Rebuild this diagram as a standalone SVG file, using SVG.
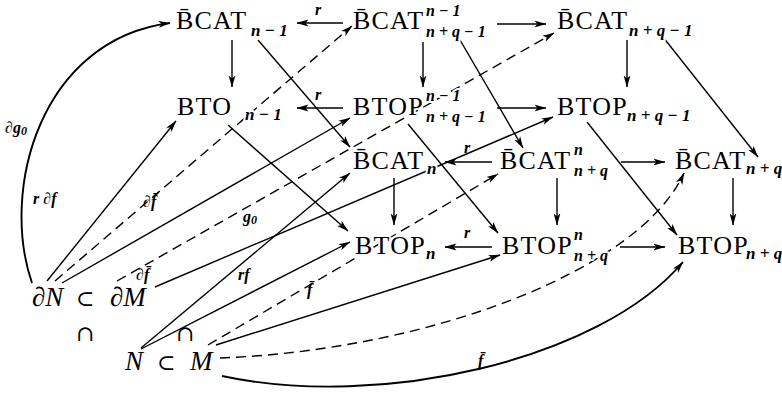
<svg xmlns="http://www.w3.org/2000/svg" width="782" height="395" viewBox="0 0 782 395">
  <defs>
    <marker id="ah" viewBox="0 0 12 8" refX="11.5" refY="4" markerWidth="12" markerHeight="8" markerUnits="userSpaceOnUse" orient="auto">
      <path d="M0,0.6 L12,4 L0,7.4 L3,4 z" fill="#000"/>
    </marker>
    <style>
      .nd { font-family: "Liberation Serif", "Times New Roman", serif; font-size: 26px; letter-spacing: 1.2px; fill: #000; stroke: #fff; stroke-width: 4px; paint-order: stroke; stroke-linejoin: round; }
      .sb { font-style: italic; font-weight: bold; font-size: 17px; letter-spacing: 0px; }
      .ss { font-style: italic; font-weight: bold; font-size: 16px; letter-spacing: 0px; }
      .lb { font-family: "Liberation Serif", "Times New Roman", serif; font-style: italic; font-weight: bold; font-size: 16px; fill: #000; }
      .mi { font-family: "Liberation Serif", "Times New Roman", serif; font-style: italic; font-size: 27px; fill: #000; }
      .op { font-family: "DejaVu Serif", "Liberation Serif", serif; font-style: normal; font-size: 22px; }
      .ln { fill: none; stroke: #000; stroke-width: 1.4px; marker-end: url(#ah); }
      .ds { stroke-dasharray: 10 6; }
      .cv { stroke-width: 1.9px; }
    </style>
  </defs>
  <rect width="782" height="395" fill="#fff"/>

  <g id="connectors">
    <!-- horizontal maps in each row -->
    <path class="ln" d="M343,23 H297"/>
    <path class="ln" d="M497,24 H546"/>
    <path class="ln" d="M343,108 H297"/>
    <path class="ln" d="M497,108 H546"/>
    <path class="ln" d="M492,162 H445"/>
    <path class="ln" d="M621,162 H665"/>
    <path class="ln" d="M492,247 H445"/>
    <path class="ln" d="M620,247 H665"/>
    <!-- vertical maps -->
    <path class="ln" d="M232,40 V87"/>
    <path class="ln" d="M423,42 V87"/>
    <path class="ln" d="M627,40 V87"/>
    <path class="ln" d="M394,178 V225"/>
    <path class="ln" d="M557,178 V225"/>
    <path class="ln" d="M733,178 V225"/>
    <!-- back face to front face -->
    <path class="ln" d="M258,40 L350,147"/>
    <path class="ln" d="M228,125 L348,231"/>
    <path class="ln" d="M460,40 L523,148"/>
    <path class="ln" d="M408,124 L498,233"/>
    <path class="ln" d="M663,37 L758,157"/>
    <path class="ln" d="M587,122 L677,235"/>
    <!-- maps out of the boundary pair -->
    <path class="ln cv" d="M32,283 C0,190 40,40 170,23"/>
    <path class="ln" d="M47,281 L176,121"/>
    <path class="ln ds" d="M55,281 L352,26"/>
    <path class="ln" d="M62,283 L350,118"/>
    <path class="ln ds" d="M117,281 L554,33"/>
    <path class="ln" d="M155,287 L553,117"/>
    <!-- maps out of the manifold pair -->
    <path class="ln" d="M141,348 L350,173"/>
    <path class="ln" d="M141,349 L350,242"/>
    <path class="ln ds" d="M208,345 L498,174"/>
    <path class="ln" d="M216,345 L500,255"/>
    <path class="ln ds" d="M220,358 C430,350 640,270 684,173"/>
    <path class="ln cv" d="M222,376 C380,410 600,360 683,262"/>
  </g>

  <g id="labels">
    <text class="lb" x="315" y="15">r</text>
    <text class="lb" x="315" y="100">r</text>
    <text class="lb" x="464" y="153">r</text>
    <text class="lb" x="464" y="238">r</text>
    <text class="lb" x="5" y="133">∂g<tspan font-size="12" dy="2">0</tspan></text>
    <text class="lb" x="33" y="204">r ∂f</text>
    <text class="lb" x="143" y="207">∂f̄</text>
    <text class="lb" x="243" y="222">g<tspan font-size="12" dy="2">0</tspan></text>
    <text class="lb" x="136" y="280">∂f̄</text>
    <text class="lb" x="238" y="280">rf</text>
    <text class="lb" x="307" y="295">f̄</text>
    <text class="lb" x="478" y="366">f̄</text>
  </g>

  <g id="bcat-n-1"><text class="nd" x="176" y="29">B̄CAT<tspan class="sb" x="251" y="36">n − 1</tspan></text></g>
  <g id="bcat-pair-n-1"><text class="nd" x="353" y="29">B̄CAT<tspan class="ss" x="426" y="16">n − 1</tspan><tspan class="ss" x="426" y="37">n + q − 1</tspan></text></g>
  <g id="bcat-n+q-1"><text class="nd" x="557" y="29">B̄CAT<tspan class="sb" x="629" y="36">n + q − 1</tspan></text></g>

  <g id="bto-n-1"><text class="nd" x="177" y="115">BTO<tspan class="sb" x="245" y="120">n − 1</tspan></text></g>
  <g id="btop-pair-n-1"><text class="nd" x="353" y="115">BTOP<tspan class="ss" x="426" y="101">n − 1</tspan><tspan class="ss" x="426" y="122">n + q − 1</tspan></text></g>
  <g id="btop-n+q-1"><text class="nd" x="557" y="115">BTOP<tspan class="sb" x="627" y="121">n + q − 1</tspan></text></g>

  <g id="bcat-n"><text class="nd" x="353" y="169">B̄CAT<tspan class="sb" x="427" y="174">n</tspan></text></g>
  <g id="bcat-pair-n"><text class="nd" x="500" y="169">B̄CAT<tspan class="ss" x="574" y="155">n</tspan><tspan class="ss" x="574" y="176">n + q</tspan></text></g>
  <g id="bcat-n+q"><text class="nd" x="675" y="169">B̄CAT<tspan class="sb" x="746" y="174">n + q</tspan></text></g>

  <g id="btop-n"><text class="nd" x="355" y="254">BTOP<tspan class="sb" x="426" y="259">n</tspan></text></g>
  <g id="btop-pair-n"><text class="nd" x="502" y="254">BTOP<tspan class="ss" x="574" y="240">n</tspan><tspan class="ss" x="574" y="261">n + q</tspan></text></g>
  <g id="btop-n+q"><text class="nd" x="678" y="254">BTOP<tspan class="sb" x="746" y="259">n + q</tspan></text></g>

  <g id="boundary-pair"><text class="mi" x="32" y="306">∂N<tspan class="op" x="76">⊂</tspan><tspan x="110">∂M</tspan></text></g>
  <g id="inclusions">
    <text class="op" x="76" y="341">∩</text>
    <text class="op" x="176" y="341">∩</text>
  </g>
  <g id="manifold-pair"><text class="mi" x="125" y="370">N<tspan class="op" x="157">⊂</tspan><tspan x="190">M</tspan></text></g>
</svg>
